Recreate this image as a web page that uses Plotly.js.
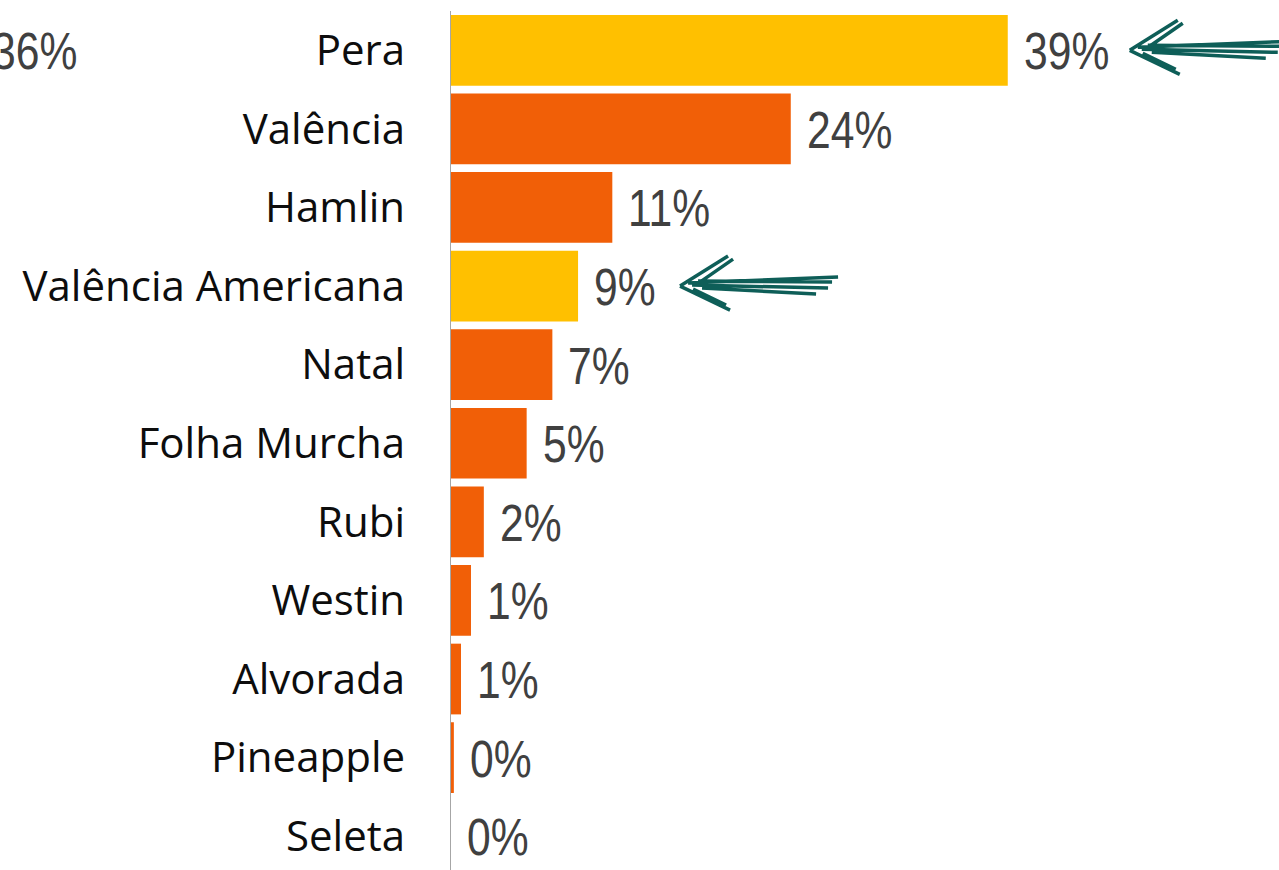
<!DOCTYPE html>
<html>
<head>
<meta charset="utf-8">
<script src="https://cdn.plot.ly/plotly-3.0.1.min.js"></script>
<style>
html,body{margin:0;padding:0;background:#fff;}
#chart{width:1279px;height:870px;}
/* emulate a narrow (Arial Narrow-like) face for the value labels */
#chart .annotation-text{transform-box:fill-box;transform-origin:0 50%;transform:scaleX(0.82);}
</style>
</head>
<body>
<div id="chart"></div>
<script>
// Data
const categories = ["Pera", "Valência", "Hamlin", "Valência Americana", "Natal", "Folha Murcha", "Rubi", "Westin", "Alvorada", "Pineapple", "Seleta"];
const shares = [39.0, 23.8, 11.3, 8.9, 7.1, 5.3, 2.3, 1.4, 0.7, 0.2, 0.0];
const highlighted = ["Pera", "Valência Americana"];
const strayLabel = "36%";

const ORANGE = "#F15F07";
const GOLD = "#FFC000";
const TEAL = "#0E5E58";
const NUMFONT = {family: "'Liberation Sans', Arial, sans-serif", size: 52, color: "#404040"};

const barColors = categories.map(c => highlighted.includes(c) ? GOLD : ORANGE);

const trace = {
  type: "bar",
  orientation: "h",
  y: categories,
  x: shares,
  marker: {color: barColors, line: {width: 0}},
  hoverinfo: "skip"
};

// value labels, placed through the axes at each bar's end
const valueLabels = categories.map((c, i) => ({
  xref: "x", yref: "y",
  x: shares[i], y: c,
  xanchor: "left", yanchor: "middle",
  xshift: 14, yshift: -1,
  text: Math.round(shares[i]) + "%",
  showarrow: false,
  font: NUMFONT
}));

// hand-drawn arrow (pixel offsets from tip, y positive = up)
const arrowSegs = [
  [0, 0, 48, 30], [17, 2, 53, 27],
  [0, 0, 50, -24], [13, -3, 46, -19],
  [8, 3, 158, 9], [18, 5, 152, 4], [12, 1, 148, -2], [22, -2, 136, -8]
];

function arrowFor(cat, pixelOffset) {
  const i = categories.indexOf(cat);
  const path = arrowSegs.map(s => `M${s[0] + pixelOffset},${s[1]} L${s[2] + pixelOffset},${s[3]}`).join(" ");
  return {
    type: "path",
    xref: "x", yref: "y",
    xsizemode: "pixel", ysizemode: "pixel",
    xanchor: shares[i], yanchor: i,
    path: path,
    line: {color: TEAL, width: 3.5},
    fillcolor: "rgba(0,0,0,0)"
  };
}

const layout = {
  width: 1279, height: 870,
  margin: {l: 451, r: 0, t: 11, b: 0, pad: 0},
  paper_bgcolor: "#ffffff",
  plot_bgcolor: "#ffffff",
  showlegend: false,
  bargap: 0.1,
  xaxis: {
    range: [0, 58],
    showgrid: false, zeroline: false, showline: false,
    showticklabels: false, ticks: "", fixedrange: true
  },
  yaxis: {
    type: "category",
    range: [10.43, -0.5],
    showgrid: false, zeroline: false,
    showline: true, linecolor: "#A6A6A6", linewidth: 1.5,
    ticks: "",
    ticklabelstandoff: 36,
    tickfont: {family: "'Open Sans', 'Noto Sans', sans-serif", size: 42, color: "#0D0D0D"},
    fixedrange: true
  },
  shapes: [arrowFor("Pera", 122), arrowFor("Valência Americana", 102)],
  annotations: valueLabels.concat([{
    xref: "paper", yref: "y",
    x: (-10 - 451) / 828, y: categories[0],
    xanchor: "left", yanchor: "middle", yshift: -1,
    text: strayLabel, showarrow: false,
    font: NUMFONT
  }])
};

Plotly.newPlot("chart", [trace], layout, {displayModeBar: false, staticPlot: true});
</script>
</body>
</html>
